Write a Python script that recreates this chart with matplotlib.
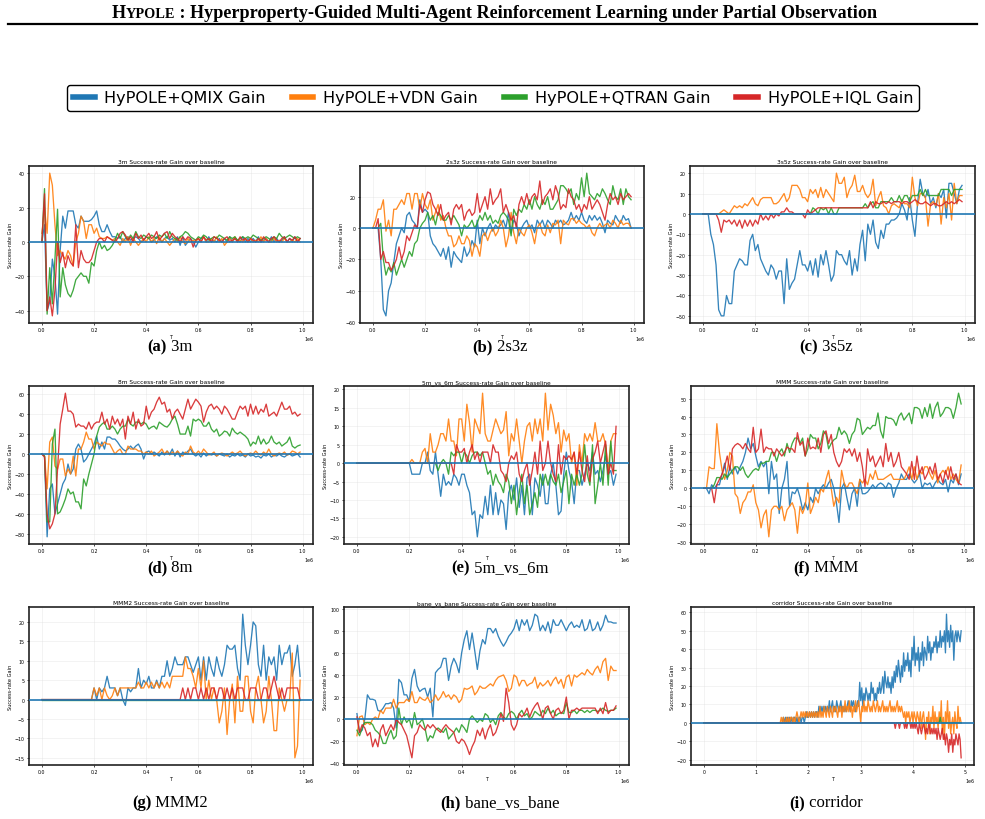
import numpy as np
import matplotlib
matplotlib.use("Agg")
import matplotlib.pyplot as plt
from matplotlib.lines import Line2D
from matplotlib.offsetbox import TextArea, HPacker, AnchoredOffsetbox

# ---------------- data ----------------
METHODS = ["HyPOLE+QMIX Gain", "HyPOLE+VDN Gain", "HyPOLE+QTRAN Gain", "HyPOLE+IQL Gain"]
COLORS = ["#1f77b4", "#ff7f0e", "#2ca02c", "#d62728"]

QMIX_3m = [0, 10, -40, -35, -10, -20, -42, -5, 15, 8,
           18, 18, 18, 10, 8, 15, 12, 12, 12, 13,
           15, 18, 10, 6, 6, 10, 6, 3, 3, 2,
           3, 0, 2, 3, 1, 2, 3, 2, 0, 1,
           3, 2, 0, 1, 3, 2, 0, 2, 3, 1,
           2, 0, 3, -2, 3, -2, 0, 2, 0, -3,
           0, 2, 3, 0, 3, 0, 1, 0, 2, 0,
           2, 0, 3, 0, 2, 1, 0, 3, 0, 2,
           0, 2, 0, 3, 0, 1, 2, 0, 3, 0,
           2, 0, 1, 3, 0, 2, 0, 3, 0, 2]
VDN_3m = [5, 20, 5, 40, 33, 10, -8, -5, -8, -10,
          -5, -8, -14, 0, 5, 15, 12, 2, 10, 10,
          5, 8, 3, 2, 2, 3, 2, 1, 2, 0,
          -2, 2, 0, 3, -2, 2, 0, -2, 0, 2,
          0, 3, 0, 2, -1, 3, 0, 2, 0, -2,
          0, 2, 0, 3, 0, -1, 2, 0, 1, 0,
          2, 0, 3, 0, 0, 2, 0, 3, 0, 2,
          -2, 0, 2, 0, 3, 0, 1, 0, 2, 0,
          2, 0, 1, 0, 3, 0, 2, 0, 0, 2,
          0, 1, 0, 2, 0, 0, 1, 0, 2, 0]
QTRAN_3m = [0, 31, -42, -15, -36, -10, 19, -32, -15, -25,
            -30, -32, -28, -22, -20, -18, -20, -20, -24, -12,
            -14, -5, 0, -4, -2, -5, -4, -2, 1, 5,
            2, 6, 3, 1, 4, 2, 6, 3, 2, 4,
            3, 2, 4, 3, 2, 4, 3, 5, 2, 6,
            3, 2, 1, 3, 4, 6, 5, 3, 2, 1,
            3, 2, 4, 3, 1, 2, 3, 2, 4, 3,
            2, 1, 3, 2, 3, 1, 2, 3, 2, 3,
            2, 4, 3, 2, 1, 2, 3, 2, 1, 3,
            2, 5, 3, 2, 3, 4, 3, 2, 3, 2]
IQL_3m = [0, 28, -40, -32, -43, -28, 0, -12, -6, -15,
          -8, -12, -14, 10, -15, -5, -10, -12, -12, -10,
          -5, 0, 2, 2, 0, 3, 2, 1, 0, 2,
          5, 6, 4, 1, 3, 0, 5, 2, 4, 1,
          3, 5, 2, 3, 6, 1, 3, 5, 6, 2,
          5, 3, 2, 0, 3, 1, 3, 2, -3, 1,
          2, 0, 3, 1, 2, 0, 3, 2, 1, 0,
          2, 3, 0, 1, 2, 0, 3, 1, 2, 0,
          2, 1, 0, 2, 0, 3, 1, 0, 2, 3,
          1, 0, 2, 3, 0, 2, 1, 3, 0, 2]

QMIX_2s3z = [0, 0, 0, -20, -52, -56, -40, -35, -22, -10,
             -5, 0, -3, 8, 10, 5, 3, 0, 18, 10,
             12, 10, -5, -10, -12, -15, -18, -13, -20, -12,
             -25, -15, -18, -20, -22, -12, -18, -15, -8, -12,
             5, -10, 0, -5, 0, 3, -2, 2, 0, 2,
             5, 0, 10, -3, 5, 3, -5, 0, 3, 5,
             0, 2, -3, 5, 2, 5, 0, 5, 3, 0,
             5, 3, 5, 2, 3, 5, 10, 5, 8, 5,
             10, 5, 3, 8, 5, 8, 5, 7, 3, -3,
             5, 3, 2, 8, 5, 3, 8, 5, 6, 0]
VDN_2s3z = [0, 5, 12, 12, 18, -2, 5, -5, 12, 12,
            15, 18, 15, 22, 22, 12, 22, 22, 12, 22,
            15, 12, 18, 5, 10, 15, 5, 8, 0, -5,
            -5, -12, -10, -5, -10, -10, -5, -8, -18, -10,
            -12, -18, -5, -3, -8, -3, 0, -5, -2, 5,
            0, -12, -5, 10, -3, -10, 0, -3, -5, 0,
            2, -3, -10, 0, 3, -3, -5, 2, -3, 3,
            2, 5, -10, 5, 3, 2, 6, 6, 3, 5,
            3, 2, 0, 2, -3, -5, 0, 3, 0, 2,
            3, 0, 5, 3, 0, 5, 2, 3, 3, 0]
QTRAN_2s3z = [0, 0, 0, 3, -20, -30, -25, -28, -22, -30,
              -25, -20, -25, -20, -15, -18, -10, -8, 0, 3,
              5, 10, 5, 8, 2, 10, 8, 5, 5, 8,
              5, 8, 5, 2, -5, 2, 0, 2, 5, 0,
              3, 8, 5, 10, 5, 8, 3, 5, 3, 8,
              10, 8, 5, -5, 12, 8, 12, 10, 15, 12,
              18, 12, 20, 15, 12, 18, 15, 20, 12, 12,
              15, 18, 27, 27, 25, 22, 25, 15, 22, 18,
              32, 20, 35, 22, 20, 18, 22, 20, 25, 22,
              18, 15, 27, 20, 18, 25, 15, 25, 20, 18]
IQL_2s3z = [0, 0, 6, -20, -15, -22, -22, -27, -24, -20,
            -12, -20, -15, -5, -8, -3, 2, 0, 15, 10,
            18, 23, 22, 15, 12, 8, 15, 5, 8, 10,
            2, 12, 15, 12, 15, 5, 10, 12, 8, 10,
            22, 10, 15, 20, 12, 25, 15, 18, 20, 25,
            10, 15, 10, 5, 8, 0, 15, 20, 15, 22,
            15, 20, 22, 18, 30, 15, 20, 22, 25, 18,
            27, 22, 12, 15, 13, 25, 20, 18, 12, 15,
            10, 15, 12, 20, 12, 15, 18, 15, 10, 5,
            15, 22, 18, 20, 15, 22, 18, 20, 22, 20]

QMIX_3s5z = [0, 0, 0, -10, -15, -25, -47, -50, -50, -40,
             -44, -44, -28, -25, -22, -23, -25, -25, -13, -10,
             -18, -15, -22, -25, -28, -30, -25, -27, -32, -28,
             -28, -44, -22, -37, -34, -32, -25, -18, -25, -25,
             -28, -23, -30, -22, -31, -20, -25, -18, -25, -33,
             -30, -18, -20, -20, -23, -25, -18, -30, -22, -28,
             -15, -8, -23, -5, -10, -3, -14, -17, -8, -12,
             -5, -5, -3, -3, -2, 0, 5, 2, -3, 8,
             -3, -11, 5, 17, 10, 8, 12, 5, 8, 3,
             10, 8, 12, -2, 15, 15, 10, 5, 12, 14]
VDN_3s5z = [0, 0, 0, 0, 0, 0, 0, 1, 2, 1,
            0, 2, 4, 3, 4, 3, 5, 4, 6, 8,
            5, 4, 7, 8, 8, 8, 8, 5, 5, 6,
            8, 10, 6, 8, 14, 14, 14, 12, 8, 8,
            6, 12, 10, 12, 8, 13, 8, 12, 10, 8,
            6, 20, 15, 15, 18, 8, 12, 14, 19, 11,
            11, 14, 10, 8, 10, 17, 4, 8, 11, 4,
            3, 0, 4, 5, 4, 3, 7, 5, 5, 3,
            18, 8, 4, 10, 10, 8, -6, 5, 6, 4,
            10, -5, 8, 3, 10, -3, 15, 5, 9, 9]
QTRAN_3s5z = [0] * 42 + [3, 2, 0, 3, 2, 3, 0, 3, 0, 0,
                         3, 3, 3, 3, 3, 3, 3, 3, 3, 3,
                         5, 3, 5, 6, 3, 3, 6, 6, 6, 6,
                         8, 6, 6, 9, 6, 9, 9, 6, 9, 9,
                         9, 12, 9, 12, 9, 9, 9, 9, 9, 12,
                         12, 12, 12, 9, 12, 12, 12, 12]
IQL_3s5z = [0, 0, 0, 0, 0, 0, -3, -9, -3, -4,
            -3, -5, -3, -6, -3, -7, -3, -6, -3, -6,
            -3, -5, 0, -3, -1, -3, 0, -2, 0, -1,
            1, 1, 3, 1, 1, 0, 0, 0, 0, -2,
            2, 0, 1, 2, 3, 3, 3, 3, 3, 3,
            3, 3, 3, 3, 3, 3, 3, 3, 3, 3,
            3, 3, 3, 3, 6, 3, 6, 5, 5, 6,
            5, 6, 5, 6, 6, 6, 5, 6, 6, 5,
            6, 7, 6, 5, 5, 6, 5, 4, 5, 5,
            4, 4, 5, 6, 5, 6, 5, 6, 7, 6]

QMIX_8m = [0, -2, -83, -35, -30, -60, -50, -40, -30, -25,
           -10, -20, -15, 5, 10, 5, -8, -5, 0, 5,
           10, 18, 5, 12, 5, 17, 17, 15, 15, 12,
           8, 5, 3, 5, 8, 5, 8, 10, 5, -5,
           2, 3, 0, 2, 0, -2, 2, -1, 3, 0,
           5, -2, 3, -3, 2, 0, 3, 5, 0, -2,
           0, -3, 1, -2, 0, -1, 0, -2, 0, -1,
           -2, 0, -3, -1, -2, 0, -2, -1, -3, 0,
           -2, -1, -3, -2, -4, -1, -2, 0, -3, -1,
           -2, 0, -2, -3, -1, 0, -2, -1, 0, -3]
VDN_8m = [0, -2, -35, 12, 17, -12, -15, -5, -5, -22,
          -15, -20, -2, -22, 5, 5, 12, 22, 15, 15,
          5, 12, 10, 8, 12, 10, 10, 5, 0, 3,
          5, 0, 0, 8, 5, 5, 5, 3, 3, 0,
          2, 0, 3, -2, 0, 2, 5, 0, 3, -1,
          2, 0, 3, 0, -2, 2, 0, 8, 2, 0,
          3, 0, 5, 2, -1, 0, 2, -2, 0, 1,
          0, -2, 0, 2, 0, 1, 3, 0, -2, 0,
          1, 0, 3, 0, -1, 2, 0, 5, 0, -2,
          0, 1, 0, 2, -1, 0, 3, 2, 0, 2]
QTRAN_8m = [0, -2, -68, -68, 10, 25, -60, -58, -52, -45,
            -35, -40, -38, -48, -48, -55, -25, -32, -20, -10,
            0, 18, 27, 30, 32, 25, 25, 28, 25, 20,
            25, 28, 28, 35, 30, 28, 32, 32, 30, 32,
            30, 25, 27, 28, 25, 32, 30, 28, 27, 30,
            35, 38, 30, 20, 20, 20, 28, 18, 35, 33,
            35, 33, 28, 28, 32, 25, 22, 25, 18, 20,
            23, 22, 18, 26, 22, 20, 22, 20, 18, 15,
            8, 12, 10, 18, 10, 15, 10, 12, 18, 12,
            10, 12, 8, 10, 12, 17, 8, 6, 8, 9]
IQL_8m = [0, -3, -60, -75, -70, -60, -15, 30, 45, 61,
          43, 43, 40, 27, 30, 28, 28, 25, 32, 25,
          30, 32, 32, 42, 30, 35, 25, 38, 30, 35,
          28, 35, 15, 38, 30, 42, 25, 35, 28, 30,
          48, 35, 42, 45, 52, 57, 50, 52, 42, 45,
          35, 42, 45, 40, 35, 45, 55, 45, 50, 55,
          52, 48, 32, 42, 48, 50, 45, 48, 45, 40,
          48, 45, 40, 35, 35, 42, 48, 45, 48, 38,
          50, 40, 48, 40, 45, 42, 50, 38, 40, 42,
          38, 45, 52, 45, 45, 48, 40, 42, 38, 40]

QMIX_5m6m = [0] * 21 + [-3, -3, -3, -3, 0, 0, 3, -2, -3,
                        3, -3, -9, -3, -6, -5, -6, -3, -4, -6,
                        -3, -3, -6, -8, -14, -13, -20, -14, -15, -9,
                        -14, -6, -14, -8, -14, -10, -11, -18, -8, -6,
                        -10, -4, -12, -6, -14, -4, -3, -14, -4, -6,
                        -9, -3, -11, -11, -3, 0, -6, -14, -13, -3,
                        3, -2, -5, -11, -2, -2, -6, -3, 0, -2,
                        3, -3, -2, -5, -2, 2, -3, -2, -6, -3]
VDN_5m6m = [0] * 21 + [1, 0, 0, 0, 3, 4, 0, 8, 3,
                       3, 5, 8, 8, 6, 12, 6, 6, 2, 12,
                       12, 6, 16, 11, 3, 12, 10, 8, 19, 8,
                       6, 6, 9, 12, 10, 8, 9, 14, 2, 8,
                       6, 12, 6, 0, 6, 10, 11, 6, 12, 8,
                       12, 6, 19, 9, 16, 13, 8, 11, 3, 9,
                       6, 8, 0, 3, -6, 5, 0, 8, 6, 8,
                       6, 11, 6, 6, 8, 5, -2, 6, 8, 8]
QTRAN_5m6m = [0] * 30 + [0, -2, 0, 1, 0, -3, 3, 2, 3, 3,
                         0, 3, 2, 0, 2, 3, 3, 2, 3, 0,
                         -3, -2, -6, -3, -5, -6, -8, -3, -5, -11,
                         -6, -14, -8, -3, -11, -6, -14, -11, -8, -12,
                         -3, -6, -3, -6, -3, -5, -6, -3, -8, -5,
                         -2, -11, -3, -6, -3, -6, -3, 5, -3, -6,
                         5, -11, -6, 0, -6, 5, -6, 6, -2, -2]
IQL_5m6m = [0] * 37 + [-3, 5, 3,
                       3, 4, 0, 3, 5, 1, 3, 0, 3, 3,
                       3, 0, 5, 3, 3, -2, -3, -5, 0, 2,
                       1, 3, -3, -5, -2, 0, -6, -2, 3, -3,
                       6, -2, 0, 6, 0, -3, -5, 5, -3, 2,
                       1, 2, 1, 3, -3, 3, -2, -5, 2, -5,
                       1, 3, 6, 0, 3, 6, -3, 0, -3, 10]

QMIX_MMM = [0, 0, -3, 2, 0, 2, 2, 8, 14, 5,
            12, 8, 12, 8, 12, 15, 20, 28, 22, 25,
            18, 12, 15, 12, 15, -3, 15, 5, 8, -14,
            0, 5, 15, -10, -2, -3, 0, -5, -12, -8,
            -12, -5, -8, 0, -3, 0, 2, 0, 3, 5,
            0, -8, -19, 0, 3, -5, -12, -3, 0, -10,
            5, -3, -3, -2, 0, 2, 0, 2, 3, 2,
            0, 3, 2, -5, 0, 3, 8, 5, 5, 8,
            5, 3, 5, 8, 0, 3, 2, 3, 0, 3,
            5, 3, 2, 5, -2, 5, 3, 8, 2, 8]
VDN_MMM = [0, 0, 12, 11, 11, 36, 20, 10, 5, 10,
           20, 18, -3, -5, -14, -8, -6, -2, -2, 2,
           -8, -12, -22, -15, -12, -27, -12, -10, -10, -12,
           -10, -18, -12, -10, -8, -12, -25, -10, -14, -10,
           3, -14, -10, -5, -8, 0, -2, 5, 10, 0,
           -10, -5, -8, 10, 3, 0, 3, 3, 0, -3,
           5, 3, 5, 2, 8, 5, 10, 5, 5, 5,
           6, 7, 8, 5, 5, 5, 5, 5, 8, 12,
           5, 12, 5, 10, 8, 12, 12, 8, 5, 10,
           3, 8, 10, 8, 12, 5, 8, 5, 3, 13]
QTRAN_MMM = [0, 0, 0, 0, 2, 6, 6, 5, 8, 6,
             8, 10, 12, 12, 10, 12, 8, 6, 8, 10,
             11, 10, 14, 14, 15, 15, 20, 20, 15, 20,
             22, 18, 25, 20, 25, 28, 28, 25, 28, 18,
             22, 30, 28, 28, 22, 25, 32, 30, 22, 25,
             27, 28, 34, 30, 32, 30, 25, 30, 32, 39,
             38, 30, 32, 34, 33, 35, 35, 42, 32, 28,
             40, 39, 39, 38, 35, 40, 42, 38, 40, 42,
             36, 45, 45, 44, 39, 45, 40, 47, 39, 45,
             48, 40, 42, 45, 45, 44, 39, 45, 53, 47]
IQL_MMM = [0, 0, 0, 0, -8, 2, 5, 8, 12, 18,
           10, 22, 24, 25, 24, 22, 25, 22, 20, 34,
           20, 22, 33, 20, 23, 22, 22, 18, 22, 20,
           18, 20, 23, 22, 22, 20, 31, 24, 26, 18,
           28, 22, 23, 22, 28, 20, 30, 32, 25, 30,
           20, 15, 12, 15, 22, 20, 22, 18, 22, 15,
           20, 12, 1, 22, 15, 18, 12, 15, 18, 12,
           25, 15, 20, 12, 15, 20, 12, 10, 8, 5,
           15, 5, 18, 8, 12, 5, 8, 12, 8, 14,
           5, 8, 3, 10, 5, 12, 5, 8, 3, 2]

QMIX_MMM2 = [0] * 20 + [3, 0, 3, 2, 3, 6, 3, 3, 3, 1,
                        3, 0, -1.5, 3, 2, 3, 3, 8, 3, 5,
                        4, 6, 3, 3, 5, 3, 6, 6, 10, 6,
                        8, 11, 9, 9, 9, 11, 11, 9, 7, 9,
                        11, 5, 11, 5, 11, 8, 6, 11, 8, 6,
                        9, 14, 13, 13, 14, 8, 5, 22, 14, 9,
                        14, 20, 19, 9, 6, 14, 5, 11, 9, 11,
                        5, 14, 9, 12, 12, 14, 6, 9, 14, 6]
VDN_MMM2 = [0] * 20 + [3, 1, 3, 0, 3, 1, 0, 1, 3, 1,
                       3, 3, 3, 3, 3, 3, 3, 4.5, 3, 3,
                       4.5, 3, 4.5, 3, 4.5, 3, 4.5, 3, 4.5, 3,
                       6, 6, 6, 6, 6, 11, 8, 8, 6, 3,
                       8, 3, 10, 0, 5, 0, 3, 0, -6, -3,
                       3, -9, 0, 4, -6, 6, -3, -3, 6, 6,
                       -3, -6, 3, 6, 0, -6, -3, 6, 0, -8,
                       -8, 3, 0, -3, 0, 0, 12, -15, -12, 5]
QTRAN_MMM2 = [0] * 100
IQL_MMM2 = [0] * 54 + [3, 0, 3, 0, 3, 3,
                       0, 3, 0, 3, 0, 3, 3, 0, 3, 3,
                       0, 3, 0, 3, 0, 3, 3, 3, 0, 0,
                       3, 3, 3, 0, 0, 3, 3, 0, 3, 6,
                       3, 0, 3, 0, 3, 3, 3, 3, 3, 0]

QMIX_bane = [5, -12, -10, 0, 22, 18, 18, 17, 8, 7,
             10, 14, 14, 15, 10, -8, 36, 33, 22, 22,
             16, 37, 45, 30, 25, 27, 28, 20, 28, 2,
             42, 45, 47, 55, 55, 35, 48, 55, 50, 42,
             60, 72, 80, 63, 78, 62, 45, 62, 72, 68,
             82, 82, 78, 82, 75, 70, 66, 70, 75, 78,
             82, 90, 80, 90, 85, 90, 80, 85, 95, 93,
             80, 85, 80, 88, 78, 90, 85, 85, 90, 85,
             80, 85, 88, 83, 85, 83, 90, 80, 82, 90,
             80, 82, 88, 80, 85, 94, 88, 88, 87, 87]
VDN_bane = [-15, 2, 3, -5, -3, -5, 0, 2, 0, 8,
            5, 10, 10, 10, 18, 10, 15, 15, 15, 18,
            16, 25, 15, 15, 20, 18, 17, 20, 15, 17,
            22, 17, 20, 25, 20, 22, 18, 22, 20, 15,
            18, 28, 27, 28, 30, 22, 25, 30, 28, 28,
            30, 32, 30, 35, 38, 39, 40, 35, 25, 28,
            40, 38, 30, 35, 35, 30, 32, 33, 38, 28,
            33, 30, 32, 35, 30, 35, 38, 32, 36, 28,
            38, 40, 30, 40, 38, 40, 42, 40, 45, 42,
            40, 45, 48, 42, 52, 55, 35, 48, 44, 44]
QTRAN_bane = [-10, -15, -8, -3, -3, -3, -5, -10, -12, -15,
              -22, -22, -15, -10, -18, -15, 10, -5, 2, -3,
              0, -8, 6, -5, -3, 0, -8, -20, -15, -17,
              -10, -8, -10, -12, -8, -18, -15, -12, -8, -12,
              -5, -8, -12, 0, 3, 0, -3, 0, -2, 5,
              3, -3, 0, -5, 3, 6, 2, 0, 5, 7,
              5, 0, 5, 8, 3, 5, 0, 2, 7, 5,
              3, 8, 5, 10, 5, 8, 3, 5, 6, 5,
              15, 6, 6, 8, 5, 8, 8, 6, 8, 6,
              8, 8, 7, 8, 10, 8, 7, 8, 8, 10]
IQL_bane = [2, -12, -5, -8, -15, -12, -25, -18, -25, -10,
            -5, -15, -10, -5, -10, 0, -3, -5, -10, -15,
            -25, -35, -15, -12, -5, -8, -10, -5, -8, -5,
            -8, -10, -12, -8, -5, -8, -10, -12, -20, -22,
            -18, -20, -25, -32, -25, -20, -10, -15, -8, -18,
            -10, -5, -15, -12, -5, 5, -2, 28, 15, -5,
            -10, -5, 5, 2, 5, 10, 2, 8, 12, 15,
            8, 0, 10, 12, 5, 0, 8, 10, 5, 8,
            20, 0, 8, 8, 10, 8, 10, 10, 10, 10,
            10, 10, 5, 10, 5, 15, 5, 8, 8, 12]

QMIX_corridor = [0] * 75 + [0, 3, 0, 3, 0, 3, 0, 3, 0, 3, 0, 3, 3, 0, 3, 0, 3, 3, 0, 3, 3, 0, 3, 6, 3, 3,
                            6, 3, 6, 3, 6, 3, 6, 6, 3, 9, 6, 9, 6, 9, 6, 9, 6, 9, 6, 12, 6, 9, 12, 6, 9,
                            6, 12, 9, 6, 9, 12, 6, 9, 6, 9, 6, 9, 12, 9, 6, 12, 9, 12, 9, 6, 9, 12, 9, 22, 12,
                            19, 9, 16, 12, 19, 16, 12, 16, 12, 22, 16, 19, 12, 16, 12, 19, 16, 22, 16, 19, 25, 16, 28, 22, 19,
                            25, 19, 22, 16, 25, 19, 28, 22, 31, 25, 34, 28, 22, 31, 25, 38, 28, 34, 31, 38, 28, 34, 25, 41, 34,
                            47, 31, 38, 34, 41, 28, 38, 34, 44, 31, 41, 38, 34, 47, 38, 44, 34, 41, 38, 44, 41, 47, 38, 44, 41,
                            50, 41, 47, 44, 50, 38, 59, 44, 50, 41, 53, 44, 50, 34, 47, 50, 44, 50, 47, 44, 50]
VDN_corridor = [0] * 74 + [3, 0, 3, 0, 0, 3, 0, 3, 0, 3, 3, 0, 3, 0, 3, 6, 3, 0, 3, 6, 3, 6, 3, 6, 3, 6, 3,
                           6, 3, 6, 3, 6, 3, 6, 3, 6, 3, 9, 3, 6, 3, 9, 6, 3, 9, 6, 3, 9, 6, 3, 9, 6,
                           9, 6, 3, 9, 6, 9, 3, 9, 6, 12, 6, 9, 6, 12, 6, 9, 3, 9, 6, 12, 6, 9, 12, 6, 0,
                           9, 6, 12, 6, 9, 6, 12, 9, 6, 9, 6, 12, 9, 6, 9, 12, 6, 9, 6, 9, 12, 6, 9, 6, 9,
                           6, 9, 12, 6, 9, 6, 9, 6, 9, 12, 6, 9, 6, 9, 6, 3, 6, 0, 6, 3, 6, 0, 3, 6, 0,
                           6, 3, 0, 6, 3, 0, 6, -3, 3, 6, 0, -9, 3, 0, 6, -6, 3, 0, 9, -3, 6, 0, 3, -3, 6,
                           0, 12, -6, 3, -9, 6, 0, 12, -3, 6, -6, 0, 3, -6, 6, 0, -3, 9, 0, 3, 0]
QTRAN_corridor = [0] * 226 + [3] + [0] * 20
IQL_corridor = [0] * 180 + [0, 0, 0, -3, 0, 0, 0, -3, 0, 0, 0, 0, -3, 0, -3, 0, 0, 0, -3, 0,
                            -3, 0, -3, 0, -3, -6, 0, -3, -6, -3, 0, -3, -6, -3, -6, 0, -3, -6, -3, -6,
                            -3, -6, -3, -9, -3, -6, -9, -6, -3, -9, -6, -12, -6, -9, -16, -9, -12, -6, -16, -9,
                            -12, -6, -9, -12, -6, -9, -19]

MAP_NAMES = ["3m", "2s3z", "3s5z", "8m", "5m_vs_6m", "MMM", "MMM2", "bane_vs_bane", "corridor"]
CAPTION_TAGS = ["(a)", "(b)", "(c)", "(d)", "(e)", "(f)", "(g)", "(h)", "(i)"]
SERIES = [
    (QMIX_3m, VDN_3m, QTRAN_3m, IQL_3m),
    (QMIX_2s3z, VDN_2s3z, QTRAN_2s3z, IQL_2s3z),
    (QMIX_3s5z, VDN_3s5z, QTRAN_3s5z, IQL_3s5z),
    (QMIX_8m, VDN_8m, QTRAN_8m, IQL_8m),
    (QMIX_5m6m, VDN_5m6m, QTRAN_5m6m, IQL_5m6m),
    (QMIX_MMM, VDN_MMM, QTRAN_MMM, IQL_MMM),
    (QMIX_MMM2, VDN_MMM2, QTRAN_MMM2, IQL_MMM2),
    (QMIX_bane, VDN_bane, QTRAN_bane, IQL_bane),
    (QMIX_corridor, VDN_corridor, QTRAN_corridor, IQL_corridor),
]
T_STEP = [0.01e6] * 8 + [0.02e6]

# ---------------- layout ----------------
W, H = 985, 820
fig = plt.figure(figsize=(W / 100, H / 100), dpi=100)

def fx(px):
    return px / W

def fy(py):
    return 1 - py / H

# axes boxes in pixels (left, top, right, bottom)
BOXES = [
    (29, 167, 313, 324), (360, 167, 644, 324), (690, 167, 975, 324),
    (29, 387, 313, 545), (344, 387, 629, 545), (691, 387, 974, 545),
    (29, 608, 313, 766), (344, 608, 629, 766), (691, 608, 974, 766),
]
CAP_POS = [(170, 347), (500, 347), (826, 347),
           (170, 568), (500, 568), (826, 568),
           (170, 803), (500, 803), (826, 803)]

FS_TICK = 3.4
for i, (name, ser, step) in enumerate(zip(MAP_NAMES, SERIES, T_STEP)):
    l, t, r, b = BOXES[i]
    ax = fig.add_axes([fx(l), fy(b), fx(r - l), (b - t) / H])
    for y, c in zip(ser, COLORS):
        x = np.arange(len(y)) * step
        ax.plot(x, y, color=c, lw=0.95, alpha=0.9)
    ax.axhline(0, color=COLORS[0], lw=1.4, alpha=0.85, zorder=5)
    ax.grid(True, color="#dddddd", lw=0.4, alpha=0.6)
    ax.set_title(f"{name} Success-rate Gain over baseline", fontsize=4.2, pad=2)
    ax.set_xlabel("T", fontsize=3.6, labelpad=1)
    ax.set_ylabel("Success-rate Gain", fontsize=3.6, labelpad=1.5)
    ax.tick_params(labelsize=FS_TICK, length=1.5, width=0.5, pad=1.5)
    ax.xaxis.get_offset_text().set_fontsize(FS_TICK)
    for sp in ax.spines.values():
        sp.set_linewidth(1.2)
        sp.set_color("#222222")

    # caption
    cx, cy = CAP_POS[i]
    cap = HPacker(children=[
        TextArea(CAPTION_TAGS[i], textprops=dict(family="Liberation Serif", weight="bold", size=12)),
        TextArea(" " + name, textprops=dict(family="Liberation Serif", size=12)),
    ], align="baseline", pad=0, sep=0)
    fig.add_artist(AnchoredOffsetbox(loc="center", child=cap, pad=0, borderpad=0, frameon=False,
                                     bbox_to_anchor=(fx(cx), fy(cy)), bbox_transform=fig.transFigure))

# ---------------- header ----------------
tp = dict(family="Liberation Serif", weight="bold", size=13.1)
title = HPacker(children=[
    TextArea("H", textprops=tp),
    TextArea("YPOLE", textprops=dict(tp, size=10.3)),
    TextArea(" : Hyperproperty-Guided Multi-Agent Reinforcement Learning under Partial Observation", textprops=tp),
], align="baseline", pad=0, sep=0)
fig.add_artist(AnchoredOffsetbox(loc="center", child=title, pad=0, borderpad=0, frameon=False,
                                 bbox_to_anchor=(fx(494), fy(14)), bbox_transform=fig.transFigure))
fig.add_artist(Line2D([fx(8), fx(977)], [fy(25), fy(25)], transform=fig.transFigure, color="black", lw=1.6))

# ---------------- legend ----------------
handles = [Line2D([], [], color=c, lw=4) for c in COLORS]
leg = fig.legend(handles, METHODS, loc="center", bbox_to_anchor=(fx(493), fy(99)), ncol=4,
                 fontsize=11.6, frameon=True, edgecolor="black", fancybox=True, framealpha=1,
                 handlelength=1.35, handletextpad=0.6, columnspacing=1.6, borderpad=0.35)
leg.get_frame().set_linewidth(1.0)

fig.savefig("out.png", dpi=100)
